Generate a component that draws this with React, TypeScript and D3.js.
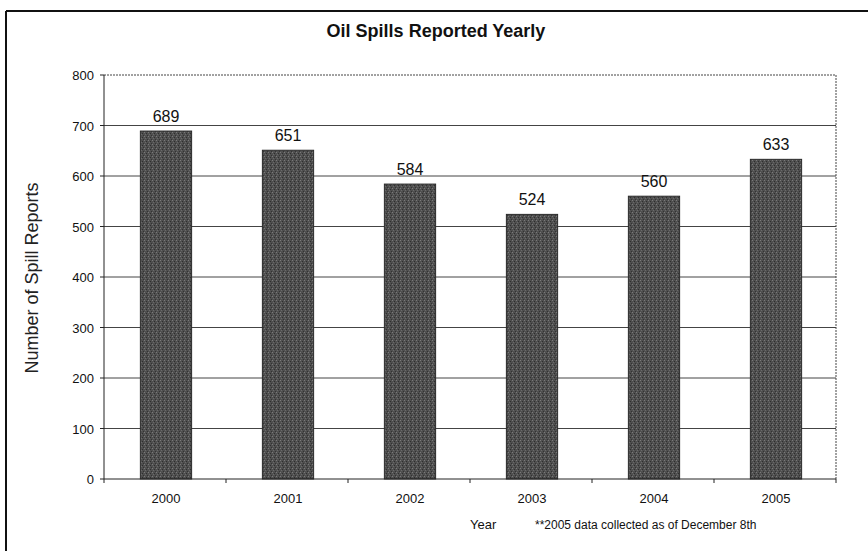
import React from "react";
import * as d3 from "d3";

const years = ["2000", "2001", "2002", "2003", "2004", "2005"];
const spills = [689, 651, 584, 524, 560, 633];
const yTicks = [0, 100, 200, 300, 400, 500, 600, 700, 800];

const W = 868, H = 551;
const M = { left: 104, right: 836, top: 75, bottom: 479 };

export default function App() {
  const x = d3.scaleBand<string>().domain(years).range([M.left + 1, M.right + 1]).paddingInner(0.58).paddingOuter(0.29);
  const y = d3.scaleLinear().domain([0, 800]).range([M.bottom, M.top]);
  const step = (M.right - M.left) / years.length;
  const font = "Arial, 'Liberation Sans', sans-serif";
  return (
    <svg width={W} height={H} style={{ position: "absolute", left: 0, top: 0, background: "#fff" }} fontFamily={font}>
      <defs>
        <pattern id="grain" width="4" height="4" patternUnits="userSpaceOnUse">
          <rect width="4" height="4" fill="#4f4f4f" />
          <rect x="0" y="0" width="1" height="1" fill="#7a7a7a" />
          <rect x="2" y="1" width="1" height="1" fill="#2e2e2e" />
          <rect x="1" y="2" width="1" height="1" fill="#6a6a6a" />
          <rect x="3" y="3" width="1" height="1" fill="#333" />
        </pattern>
      </defs>
      {/* outer frame */}
      <line x1={6} x2={W} y1={11} y2={11} stroke="#111" strokeWidth={2} />
      <line x1={6} x2={6} y1={11} y2={H} stroke="#111" strokeWidth={2} />
      <text x={436} y={37} textAnchor="middle" fontSize={18} fontWeight="bold" fill="#111">Oil Spills Reported Yearly</text>
      {/* gridlines */}
      {yTicks.filter(t => t > 0 && t < 800).map(t => (
        <line key={t} x1={M.left} x2={M.right} y1={y(t)} y2={y(t)} stroke="#444" strokeWidth={1} />
      ))}
      <line x1={M.left} x2={M.right} y1={y(800)} y2={y(800)} stroke="#444" strokeWidth={1} strokeDasharray="2,1" />
      <line x1={M.right} x2={M.right} y1={y(800)} y2={M.bottom} stroke="#444" strokeWidth={1} strokeDasharray="2,1" />
      {/* bars */}
      {years.map((yr, i) => (
        <g key={yr}>
          <rect x={x(yr)} y={y(spills[i])} width={x.bandwidth()} height={M.bottom - y(spills[i])} fill="url(#grain)" stroke="#2a2a2a" strokeWidth={1} />
          <text x={(x(yr) as number) + x.bandwidth() / 2} y={y(spills[i]) - 9} textAnchor="middle" fontSize={16} fill="#111">{spills[i]}</text>
        </g>
      ))}
      {/* axes */}
      <line x1={M.left} x2={M.left} y1={M.top} y2={M.bottom} stroke="#222" strokeWidth={1} />
      <line x1={M.left} x2={M.right} y1={M.bottom} y2={M.bottom} stroke="#222" strokeWidth={1} />
      {yTicks.map(t => (
        <g key={t}>
          <line x1={M.left - 4} x2={M.left} y1={y(t)} y2={y(t)} stroke="#222" />
          <text x={M.left - 10} y={y(t) + 5} textAnchor="end" fontSize={13} fill="#111">{t}</text>
        </g>
      ))}
      {d3.range(years.length + 1).map(i => (
        <line key={i} x1={M.left + i * step} x2={M.left + i * step} y1={M.bottom} y2={M.bottom + 4} stroke="#222" />
      ))}
      {years.map(yr => (
        <text key={yr} x={(x(yr) as number) + x.bandwidth() / 2} y={503} textAnchor="middle" fontSize={13} fill="#111">{yr}</text>
      ))}
      <text x={38} y={278} transform="rotate(-90 38 278)" textAnchor="middle" fontSize={18} fill="#222">Number of Spill Reports</text>
      <text x={470} y={529} fontSize={13} fill="#111">Year</text>
      <text x={535} y={529} fontSize={12} fill="#111">**2005 data  collected as of December 8th</text>
    </svg>
  );
}
